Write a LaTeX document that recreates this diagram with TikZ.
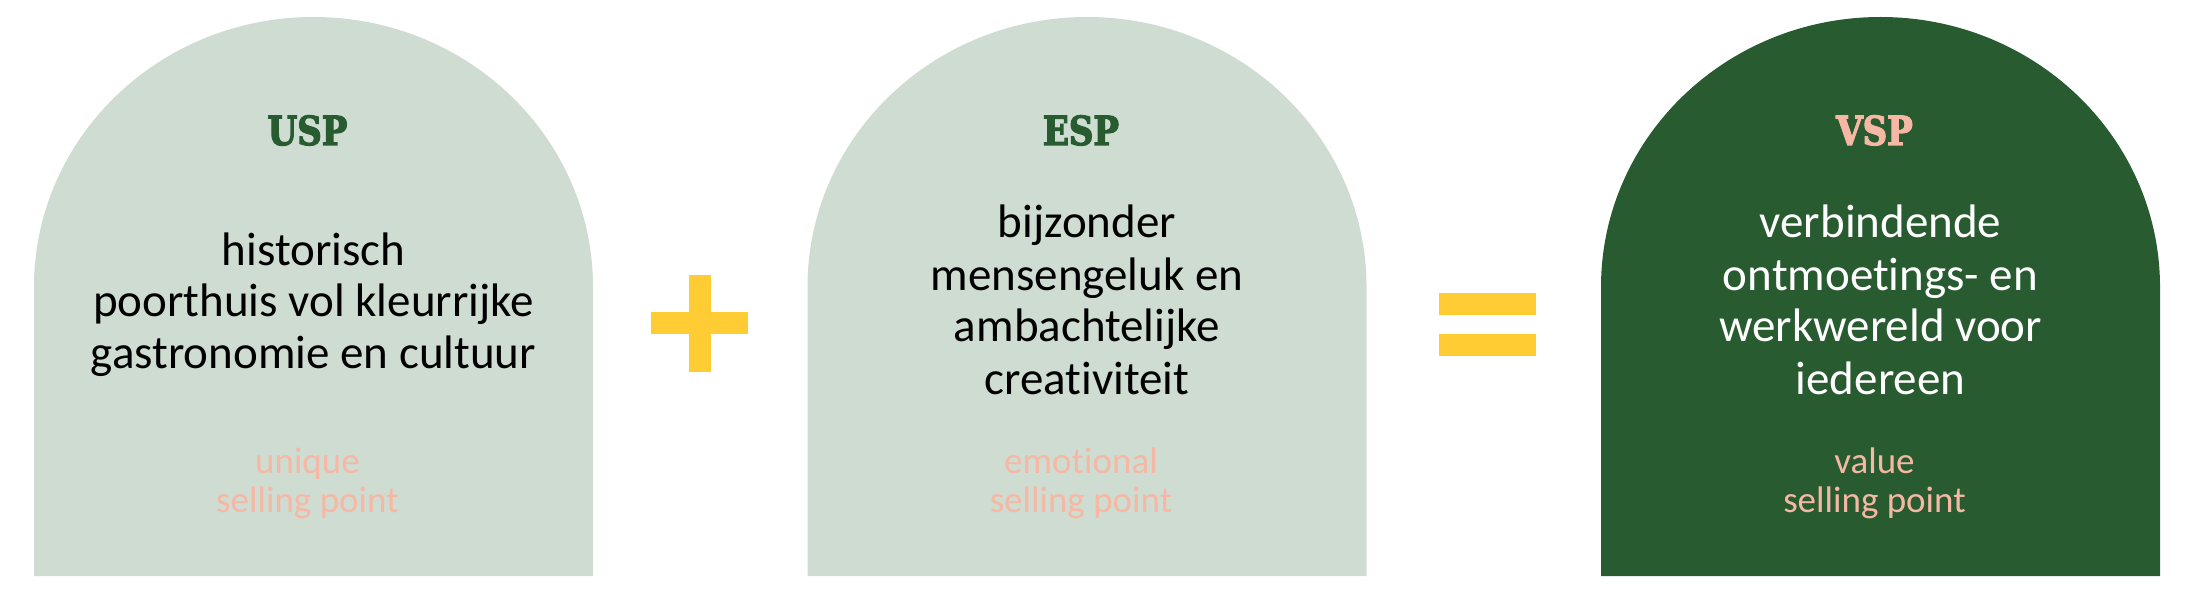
\documentclass[tikz,border=0pt]{standalone}
\usepackage{fontspec}
\setmainfont{Carlito}[Ligatures=NoCommon]
\newfontfamily\slabfont[FakeStretch=0.85,BoldFont={DejaVu Serif Bold},BoldFeatures={FakeBold=3}]{DejaVu Serif}
\definecolor{sage}{RGB}{206,220,209}
\definecolor{forest}{RGB}{40,91,48}
\definecolor{salmon}{RGB}{246,184,164}
\definecolor{sun}{RGB}{255,204,51}
\begin{document}
\begin{tikzpicture}[x=1pt,y=1pt,
  head/.style={font=\slabfont\bfseries\fontsize{40}{40}\selectfont, anchor=base, inner sep=0pt},
  body/.style={font=\fontsize{47}{52}\selectfont, anchor=base, inner sep=0pt},
  sub/.style={font=\fontsize{37}{40}\selectfont, anchor=base, inner sep=0pt, text=salmon},
  arch/.style={fill=#1}]
\useasboundingbox (0,0) rectangle (2189,598);
% arches
\foreach \cx/\col in {313.5/sage, 1087/sage, 1880.5/forest}
  \path[arch=\col] (\cx-279.5,22) -- (\cx-279.5,311)
     arc[start angle=180, end angle=0, x radius=279.5, y radius=270]
     -- (\cx+279.5,22) -- cycle;
% plus
\fill[sun] (689,226) rectangle (711,323);
\fill[sun] (651,264) rectangle (748,286);
% equals
\fill[sun] (1439,283) rectangle (1536,305);
\fill[sun] (1439,242) rectangle (1536,264);
% USP
\node[head, text=forest] (uh) at (307.5,453) {USP};
\node[body] (u1) at (313.5,333) {historisch};
\node[body] (u2) at (313.5,282) {poorthuis vol kleurrijke};
\node[body] (u3) at (313.5,230) {gastronomie en cultuur};
\node[sub] (us1) at (307.5,125) {unique};
\node[sub] (us2) at (307.5,86) {selling point};
% ESP
\node[head, text=forest] (eh) at (1081,453) {ESP};
\node[body] (e1) at (1087,360) {bijzonder};
\node[body] (e2) at (1087,308) {mensengeluk en};
\node[body] (e3) at (1087,257) {ambachtelijke};
\node[body] (e4) at (1087,204) {creativiteit};
\node[sub] (es1) at (1081,125) {emotional};
\node[sub] (es2) at (1081,86) {selling point};
% VSP
\node[head, text=salmon] (vh) at (1874.5,453) {VSP};
\node[body, text=white] (v1) at (1880.5,360) {verbindende};
\node[body, text=white] (v2) at (1880.5,308) {ontmoetings- en};
\node[body, text=white] (v3) at (1880.5,257) {werkwereld voor};
\node[body, text=white] (v4) at (1880.5,204) {iedereen};
\node[sub] (vs1) at (1874.5,125) {value};
\node[sub] (vs2) at (1874.5,86) {selling point};
\end{tikzpicture}
\end{document}
